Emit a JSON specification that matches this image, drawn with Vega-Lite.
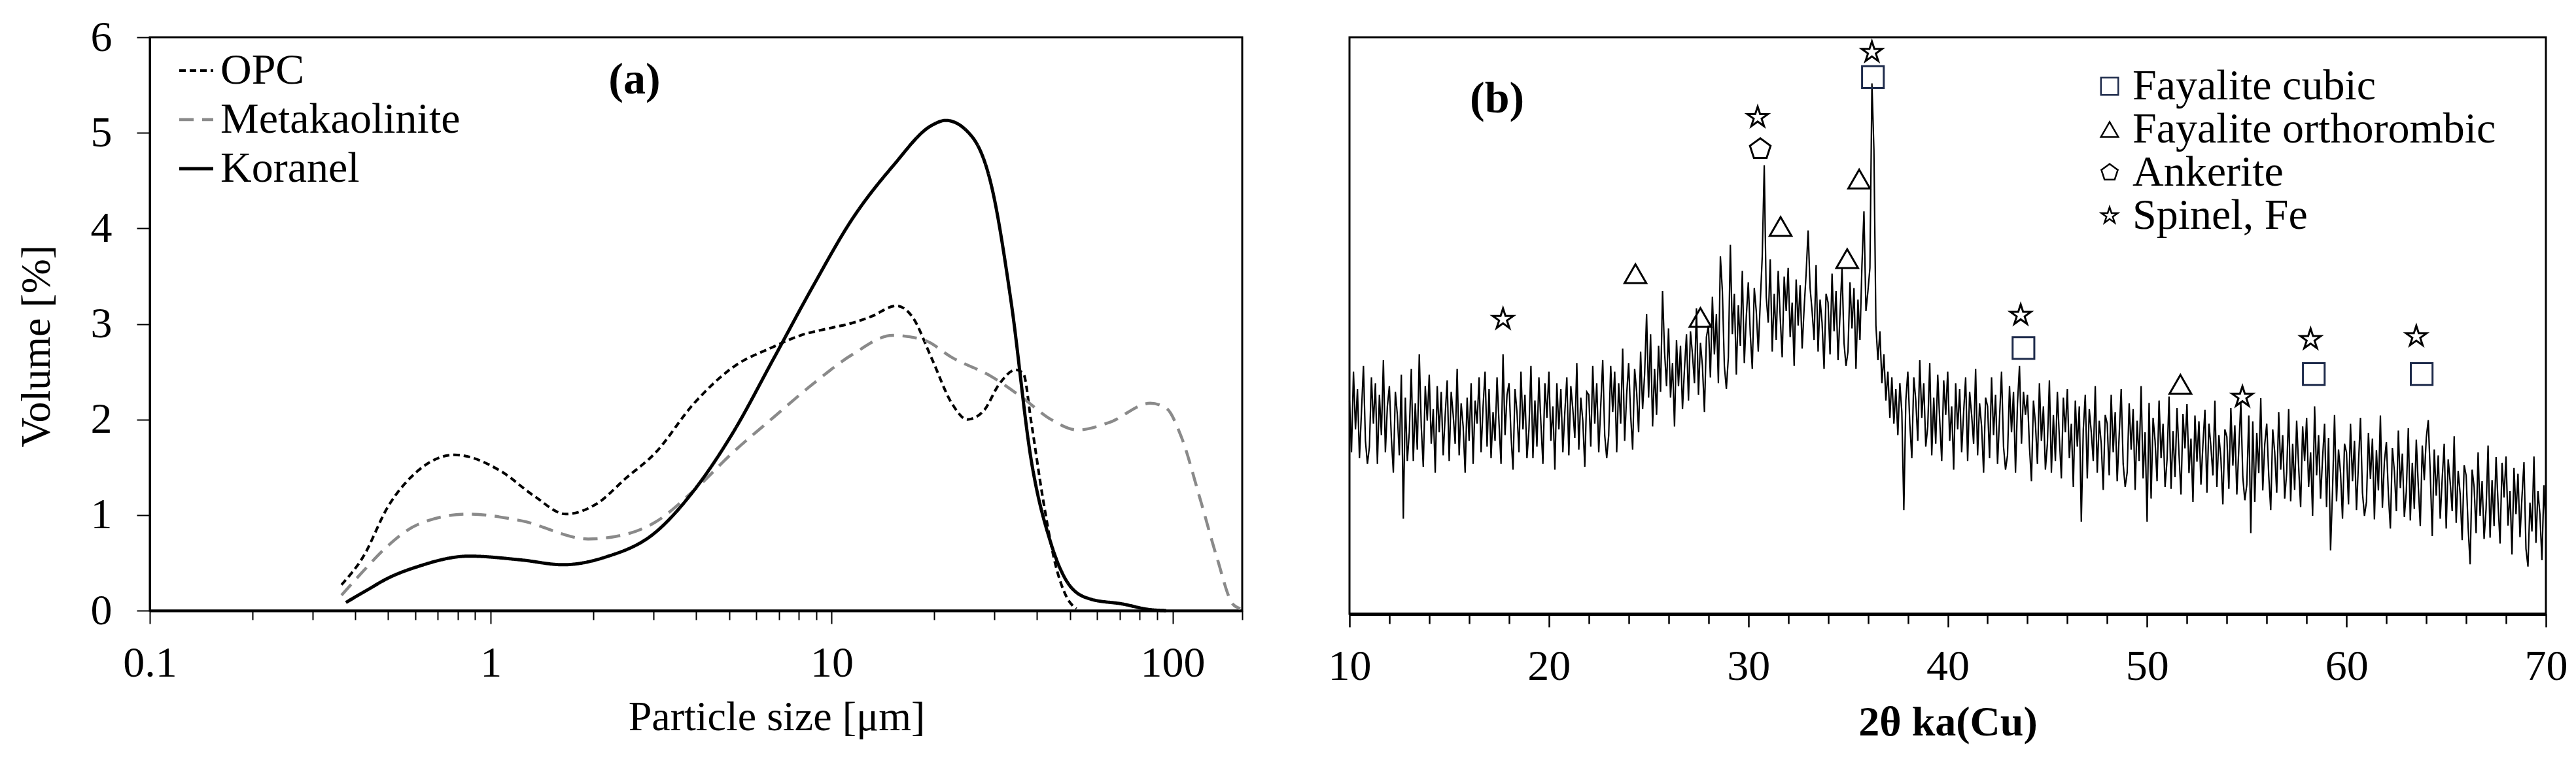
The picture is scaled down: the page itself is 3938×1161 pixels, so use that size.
{
"$schema":"https://vega.github.io/schema/vega-lite/v6.json",
"background":"white",
"padding":{"left":22,"top":22,"right":5,"bottom":5},
"spacing":121,
"resolve":{"scale":{"color":"independent","shape":"independent","strokeDash":"independent","strokeWidth":"independent"},"legend":{"color":"independent","shape":"independent","strokeDash":"independent","strokeWidth":"independent"}},
"config":{
 "font":"Liberation Serif",
 "view":{"stroke":"black","strokeWidth":3},
 "axis":{"grid":false,"domainColor":"black","tickColor":"black","labelColor":"black","titleColor":"black","labelFont":"Liberation Serif","titleFont":"Liberation Serif","labelFontSize":66,"titleFontSize":64,"titleFontWeight":"normal","labelFlush":false,"labelOverlap":false},
 "legend":{"labelFont":"Liberation Serif","labelColor":"black"},
 "text":{"font":"Liberation Serif","color":"black"}
},
"datasets":{
"psd":[
{"series":"OPC","size":0.365,"vol":0.27},{"series":"OPC","size":0.422,"vol":0.56},{"series":"OPC","size":0.5,"vol":1.09},{"series":"OPC","size":0.61,"vol":1.46},{"series":"OPC","size":0.784,"vol":1.63},{"series":"OPC","size":1.07,"vol":1.46},{"series":"OPC","size":1.34,"vol":1.2},{"series":"OPC","size":1.66,"vol":1.01},{"series":"OPC","size":2.05,"vol":1.12},{"series":"OPC","size":2.5,"vol":1.39},{"series":"OPC","size":3.02,"vol":1.64},{"series":"OPC","size":3.95,"vol":2.17},{"series":"OPC","size":5.15,"vol":2.55},{"series":"OPC","size":6.74,"vol":2.76},{"series":"OPC","size":8.1,"vol":2.88},{"series":"OPC","size":10,"vol":2.96},{"series":"OPC","size":11.5,"vol":3.01},{"series":"OPC","size":13.1,"vol":3.08},{"series":"OPC","size":15.5,"vol":3.19},{"series":"OPC","size":17.2,"vol":3.08},{"series":"OPC","size":19.7,"vol":2.63},{"series":"OPC","size":22.5,"vol":2.17},{"series":"OPC","size":25.0,"vol":2.0},{"series":"OPC","size":27.9,"vol":2.09},{"series":"OPC","size":31.0,"vol":2.37},{"series":"OPC","size":34.7,"vol":2.52},{"series":"OPC","size":36.5,"vol":2.48},{"series":"OPC","size":38.5,"vol":1.97},{"series":"OPC","size":41.7,"vol":1.16},{"series":"OPC","size":45.2,"vol":0.5},{"series":"OPC","size":48.9,"vol":0.14},{"series":"OPC","size":52.2,"vol":0.02},
{"series":"Metakaolinite","size":0.365,"vol":0.16},{"series":"Metakaolinite","size":0.422,"vol":0.41},{"series":"Metakaolinite","size":0.5,"vol":0.68},{"series":"Metakaolinite","size":0.61,"vol":0.9},{"series":"Metakaolinite","size":0.853,"vol":1.01},{"series":"Metakaolinite","size":1.23,"vol":0.94},{"series":"Metakaolinite","size":1.93,"vol":0.75},{"series":"Metakaolinite","size":2.5,"vol":0.8},{"series":"Metakaolinite","size":3.02,"vol":0.92},{"series":"Metakaolinite","size":3.95,"vol":1.26},{"series":"Metakaolinite","size":5.15,"vol":1.66},{"series":"Metakaolinite","size":6.74,"vol":2.02},{"series":"Metakaolinite","size":8.8,"vol":2.37},{"series":"Metakaolinite","size":11.5,"vol":2.68},{"series":"Metakaolinite","size":15.1,"vol":2.88},{"series":"Metakaolinite","size":18.7,"vol":2.83},{"series":"Metakaolinite","size":22.5,"vol":2.65},{"series":"Metakaolinite","size":29.4,"vol":2.45},{"series":"Metakaolinite","size":36.5,"vol":2.22},{"series":"Metakaolinite","size":44,"vol":2.0},{"series":"Metakaolinite","size":52.7,"vol":1.89},{"series":"Metakaolinite","size":65.3,"vol":1.97},{"series":"Metakaolinite","size":86,"vol":2.17},{"series":"Metakaolinite","size":95.7,"vol":2.12},{"series":"Metakaolinite","size":106,"vol":1.82},{"series":"Metakaolinite","size":120.6,"vol":1.16},{"series":"Metakaolinite","size":135,"vol":0.55},{"series":"Metakaolinite","size":150,"vol":0.07},{"series":"Metakaolinite","size":158,"vol":0.02},
{"series":"Koranel","size":0.376,"vol":0.085},{"series":"Koranel","size":0.434,"vol":0.215},{"series":"Koranel","size":0.5,"vol":0.34},{"series":"Koranel","size":0.61,"vol":0.46},{"series":"Koranel","size":0.864,"vol":0.57},{"series":"Koranel","size":1.23,"vol":0.53},{"series":"Koranel","size":1.63,"vol":0.48},{"series":"Koranel","size":2.17,"vol":0.56},{"series":"Koranel","size":3.02,"vol":0.81},{"series":"Koranel","size":3.95,"vol":1.26},{"series":"Koranel","size":5.15,"vol":1.87},{"series":"Koranel","size":6.74,"vol":2.63},{"series":"Koranel","size":8.8,"vol":3.39},{"series":"Koranel","size":11.5,"vol":4.1},{"series":"Koranel","size":15.1,"vol":4.65},{"series":"Koranel","size":19.7,"vol":5.08},{"series":"Koranel","size":21.6,"vol":5.13},{"series":"Koranel","size":25.8,"vol":4.96},{"series":"Koranel","size":29.4,"vol":4.45},{"series":"Koranel","size":33.6,"vol":3.23},{"series":"Koranel","size":38.5,"vol":1.57},{"series":"Koranel","size":44,"vol":0.7},{"series":"Koranel","size":50.2,"vol":0.25},{"series":"Koranel","size":57.5,"vol":0.12},{"series":"Koranel","size":71.1,"vol":0.07},{"series":"Koranel","size":86,"vol":0.01},{"series":"Koranel","size":95.7,"vol":0.0}
],
"peaks":[
{"phase":"Spinel, Fe","t":17.7,"i":51.1},{"phase":"Spinel, Fe","t":30.47,"i":86.1},{"phase":"Spinel, Fe","t":36.2,"i":97.4},{"phase":"Spinel, Fe","t":43.66,"i":51.8},{"phase":"Spinel, Fe","t":54.78,"i":37.6},{"phase":"Spinel, Fe","t":58.2,"i":47.6},{"phase":"Spinel, Fe","t":63.5,"i":48.1},
{"phase":"Fayalite orthorombic","t":24.34,"i":59.0},{"phase":"Fayalite orthorombic","t":27.6,"i":51.4},{"phase":"Fayalite orthorombic","t":31.62,"i":67.2},{"phase":"Fayalite orthorombic","t":34.96,"i":61.6},{"phase":"Fayalite orthorombic","t":35.56,"i":75.4},{"phase":"Fayalite orthorombic","t":51.67,"i":39.8},
{"phase":"Ankerite","t":30.6,"i":80.6},
{"phase":"Fayalite cubic","t":36.25,"i":93.1},{"phase":"Fayalite cubic","t":43.8,"i":46.1},{"phase":"Fayalite cubic","t":58.36,"i":41.6},{"phase":"Fayalite cubic","t":63.77,"i":41.6}
],
"xrd":[
{"t":10.0,"i":37},{"t":10.1,"i":28},{"t":10.2,"i":42},{"t":10.3,"i":32},{"t":10.4,"i":39},{"t":10.5,"i":27},{"t":10.6,"i":35},{"t":10.7,"i":43},{"t":10.8,"i":30},{"t":10.9,"i":26},
{"t":11.0,"i":29},{"t":11.1,"i":41},{"t":11.2,"i":33},{"t":11.3,"i":40},{"t":11.4,"i":26},{"t":11.5,"i":38},{"t":11.6,"i":31},{"t":11.7,"i":44},{"t":11.8,"i":28},{"t":11.9,"i":36},
{"t":12.0,"i":39.5},{"t":12.1,"i":30.5},{"t":12.2,"i":24.5},{"t":12.3,"i":38.5},{"t":12.4,"i":34.5},{"t":12.5,"i":27.5},{"t":12.6,"i":41.5},{"t":12.7,"i":16.5},{"t":12.8,"i":37.5},{"t":12.9,"i":26.5},
{"t":13.0,"i":31.5},{"t":13.1,"i":42.5},{"t":13.2,"i":26.5},{"t":13.3,"i":36.5},{"t":13.4,"i":28.5},{"t":13.5,"i":45},{"t":13.6,"i":32.5},{"t":13.7,"i":25.5},{"t":13.8,"i":39.5},{"t":13.9,"i":33.5},
{"t":14.0,"i":41.5},{"t":14.1,"i":29.5},{"t":14.2,"i":35.5},{"t":14.3,"i":24.5},{"t":14.4,"i":39.5},{"t":14.5,"i":31.5},{"t":14.6,"i":38.5},{"t":14.7,"i":27.5},{"t":14.8,"i":34.5},{"t":14.9,"i":40.5},
{"t":15.0,"i":26.5},{"t":15.1,"i":38.5},{"t":15.2,"i":34.5},{"t":15.3,"i":29.5},{"t":15.4,"i":42.5},{"t":15.5,"i":27.5},{"t":15.6,"i":36.5},{"t":15.7,"i":32.5},{"t":15.8,"i":24.5},{"t":15.9,"i":37.5},
{"t":16.0,"i":30},{"t":16.1,"i":40},{"t":16.2,"i":26},{"t":16.3,"i":37},{"t":16.4,"i":33},{"t":16.5,"i":41},{"t":16.6,"i":28},{"t":16.7,"i":36},{"t":16.8,"i":42},{"t":16.9,"i":29},
{"t":17.0,"i":39},{"t":17.1,"i":27},{"t":17.2,"i":35},{"t":17.3,"i":30},{"t":17.4,"i":41},{"t":17.5,"i":33},{"t":17.6,"i":26},{"t":17.7,"i":45},{"t":17.8,"i":31},{"t":17.9,"i":38},
{"t":18.0,"i":40},{"t":18.1,"i":31},{"t":18.2,"i":25},{"t":18.3,"i":39},{"t":18.4,"i":35},{"t":18.5,"i":28},{"t":18.6,"i":42},{"t":18.7,"i":32},{"t":18.8,"i":38},{"t":18.9,"i":27},
{"t":19.0,"i":32},{"t":19.1,"i":43},{"t":19.2,"i":27},{"t":19.3,"i":37},{"t":19.4,"i":29},{"t":19.5,"i":41},{"t":19.6,"i":33},{"t":19.7,"i":26},{"t":19.8,"i":40},{"t":19.9,"i":34},
{"t":20.0,"i":42},{"t":20.1,"i":30},{"t":20.2,"i":36},{"t":20.3,"i":25},{"t":20.4,"i":40},{"t":20.5,"i":32},{"t":20.6,"i":39},{"t":20.7,"i":28},{"t":20.8,"i":35},{"t":20.9,"i":41},
{"t":21.0,"i":27.5},{"t":21.1,"i":39.5},{"t":21.2,"i":35.5},{"t":21.3,"i":30.5},{"t":21.4,"i":43.5},{"t":21.5,"i":28.5},{"t":21.6,"i":37.5},{"t":21.7,"i":33.5},{"t":21.8,"i":25.5},{"t":21.9,"i":38.5},
{"t":22.0,"i":38},{"t":22.1,"i":29},{"t":22.2,"i":43},{"t":22.3,"i":33},{"t":22.4,"i":40},{"t":22.5,"i":28},{"t":22.6,"i":36},{"t":22.7,"i":44},{"t":22.8,"i":31},{"t":22.9,"i":27},
{"t":23.0,"i":31},{"t":23.1,"i":43},{"t":23.2,"i":35},{"t":23.3,"i":42},{"t":23.4,"i":28},{"t":23.5,"i":40},{"t":23.6,"i":33},{"t":23.7,"i":46},{"t":23.8,"i":30},{"t":23.9,"i":38},
{"t":24.0,"i":43.5},{"t":24.1,"i":34.5},{"t":24.2,"i":28.5},{"t":24.3,"i":42.5},{"t":24.4,"i":38.5},{"t":24.5,"i":31.5},{"t":24.6,"i":45.5},{"t":24.7,"i":35.5},{"t":24.8,"i":41.5},{"t":24.9,"i":52},
{"t":25.0,"i":37.5},{"t":25.1,"i":48.5},{"t":25.2,"i":32.5},{"t":25.3,"i":42.5},{"t":25.4,"i":34.5},{"t":25.5,"i":46.5},{"t":25.6,"i":38.5},{"t":25.7,"i":56},{"t":25.8,"i":45.5},{"t":25.9,"i":39.5},
{"t":26.0,"i":49.5},{"t":26.1,"i":37.5},{"t":26.2,"i":43.5},{"t":26.3,"i":32.5},{"t":26.4,"i":47.5},{"t":26.5,"i":39.5},{"t":26.6,"i":46.5},{"t":26.7,"i":35.5},{"t":26.8,"i":42.5},{"t":26.9,"i":48.5},
{"t":27.0,"i":37},{"t":27.1,"i":49},{"t":27.2,"i":45},{"t":27.3,"i":40},{"t":27.4,"i":53},{"t":27.5,"i":38},{"t":27.6,"i":47},{"t":27.7,"i":43},{"t":27.8,"i":35},{"t":27.9,"i":48},
{"t":28.0,"i":50},{"t":28.1,"i":41},{"t":28.2,"i":55},{"t":28.3,"i":45},{"t":28.4,"i":52},{"t":28.5,"i":40},{"t":28.6,"i":62},{"t":28.7,"i":56},{"t":28.8,"i":43},{"t":28.9,"i":39},
{"t":29.0,"i":44.5},{"t":29.1,"i":64},{"t":29.2,"i":48.5},{"t":29.3,"i":55.5},{"t":29.4,"i":41.5},{"t":29.5,"i":53.5},{"t":29.6,"i":46.5},{"t":29.7,"i":59.5},{"t":29.8,"i":43.5},{"t":29.9,"i":51.5},
{"t":30.0,"i":57.5},{"t":30.1,"i":48.5},{"t":30.2,"i":42.5},{"t":30.3,"i":56.5},{"t":30.4,"i":52.5},{"t":30.5,"i":45.5},{"t":30.6,"i":54},{"t":30.7,"i":62},{"t":30.8,"i":77.8},{"t":30.9,"i":55},
{"t":31.0,"i":50.5},{"t":31.1,"i":61.5},{"t":31.2,"i":45.5},{"t":31.3,"i":55.5},{"t":31.4,"i":47.5},{"t":31.5,"i":59.5},{"t":31.6,"i":51.5},{"t":31.7,"i":44.5},{"t":31.8,"i":58.5},{"t":31.9,"i":52.5},
{"t":32.0,"i":60},{"t":32.1,"i":48},{"t":32.2,"i":54},{"t":32.3,"i":43},{"t":32.4,"i":58},{"t":32.5,"i":50},{"t":32.6,"i":57},{"t":32.7,"i":46},{"t":32.8,"i":53},{"t":32.9,"i":59},
{"t":33.0,"i":66.5},{"t":33.1,"i":56.5},{"t":33.2,"i":52.5},{"t":33.3,"i":47.5},{"t":33.4,"i":60.5},{"t":33.5,"i":45.5},{"t":33.6,"i":54.5},{"t":33.7,"i":50.5},{"t":33.8,"i":42.5},{"t":33.9,"i":55.5},
{"t":34.0,"i":54},{"t":34.1,"i":45},{"t":34.2,"i":59},{"t":34.3,"i":49},{"t":34.4,"i":56},{"t":34.5,"i":44},{"t":34.6,"i":52},{"t":34.7,"i":60},{"t":34.8,"i":47},{"t":34.9,"i":43},
{"t":35.0,"i":45.5},{"t":35.1,"i":57.5},{"t":35.2,"i":49.5},{"t":35.3,"i":56.5},{"t":35.4,"i":42.5},{"t":35.5,"i":54.5},{"t":35.6,"i":47.5},{"t":35.7,"i":60.5},{"t":35.8,"i":69.8},{"t":35.9,"i":52.5},
{"t":36.0,"i":56},{"t":36.1,"i":60},{"t":36.2,"i":92},{"t":36.3,"i":80.5},{"t":36.4,"i":50},{"t":36.5,"i":44},{"t":36.6,"i":49},{"t":36.7,"i":40},{"t":36.8,"i":45},{"t":36.9,"i":37},
{"t":37.0,"i":42},{"t":37.1,"i":34},{"t":37.2,"i":41},{"t":37.3,"i":33},{"t":37.4,"i":39},{"t":37.5,"i":31},{"t":37.6,"i":40},{"t":37.7,"i":35},{"t":37.8,"i":18},{"t":37.9,"i":37},
{"t":38.0,"i":42},{"t":38.1,"i":33},{"t":38.2,"i":27},{"t":38.3,"i":41},{"t":38.4,"i":37},{"t":38.5,"i":30},{"t":38.6,"i":44},{"t":38.7,"i":34},{"t":38.8,"i":40},{"t":38.9,"i":29},
{"t":39.0,"i":32.5},{"t":39.1,"i":43.5},{"t":39.2,"i":27.5},{"t":39.3,"i":37.5},{"t":39.4,"i":29.5},{"t":39.5,"i":41.5},{"t":39.6,"i":33.5},{"t":39.7,"i":26.5},{"t":39.8,"i":40.5},{"t":39.9,"i":34.5},
{"t":40.0,"i":42},{"t":40.1,"i":30},{"t":40.2,"i":36},{"t":40.3,"i":25},{"t":40.4,"i":40},{"t":40.5,"i":32},{"t":40.6,"i":39},{"t":40.7,"i":28},{"t":40.8,"i":35},{"t":40.9,"i":41},
{"t":41.0,"i":26.5},{"t":41.1,"i":38.5},{"t":41.2,"i":34.5},{"t":41.3,"i":29.5},{"t":41.4,"i":42.5},{"t":41.5,"i":27.5},{"t":41.6,"i":36.5},{"t":41.7,"i":32.5},{"t":41.8,"i":24.5},{"t":41.9,"i":37.5},
{"t":42.0,"i":36},{"t":42.1,"i":27},{"t":42.2,"i":41},{"t":42.3,"i":31},{"t":42.4,"i":38},{"t":42.5,"i":26},{"t":42.6,"i":34},{"t":42.7,"i":42},{"t":42.8,"i":29},{"t":42.9,"i":25},
{"t":43.0,"i":27.5},{"t":43.1,"i":39.5},{"t":43.2,"i":31.5},{"t":43.3,"i":38.5},{"t":43.4,"i":24.5},{"t":43.5,"i":36.5},{"t":43.6,"i":43},{"t":43.7,"i":29.5},{"t":43.8,"i":38.5},{"t":43.9,"i":34.5},
{"t":44.0,"i":38},{"t":44.1,"i":29},{"t":44.2,"i":23},{"t":44.3,"i":37},{"t":44.4,"i":33},{"t":44.5,"i":26},{"t":44.6,"i":40},{"t":44.7,"i":30},{"t":44.8,"i":36},{"t":44.9,"i":25},
{"t":45.0,"i":29.5},{"t":45.1,"i":40.5},{"t":45.2,"i":24.5},{"t":45.3,"i":34.5},{"t":45.4,"i":26.5},{"t":45.5,"i":38.5},{"t":45.6,"i":30.5},{"t":45.7,"i":23.5},{"t":45.8,"i":37.5},{"t":45.9,"i":31.5},
{"t":46.0,"i":39},{"t":46.1,"i":27},{"t":46.2,"i":33},{"t":46.3,"i":22},{"t":46.4,"i":37},{"t":46.5,"i":29},{"t":46.6,"i":36},{"t":46.7,"i":16},{"t":46.8,"i":32},{"t":46.9,"i":38},
{"t":47.0,"i":23.5},{"t":47.1,"i":35.5},{"t":47.2,"i":31.5},{"t":47.3,"i":26.5},{"t":47.4,"i":39.5},{"t":47.5,"i":24.5},{"t":47.6,"i":33.5},{"t":47.7,"i":29.5},{"t":47.8,"i":21.5},{"t":47.9,"i":34.5},
{"t":48.0,"i":33},{"t":48.1,"i":24},{"t":48.2,"i":38},{"t":48.3,"i":28},{"t":48.4,"i":35},{"t":48.5,"i":23},{"t":48.6,"i":31},{"t":48.7,"i":39},{"t":48.8,"i":26},{"t":48.9,"i":22},
{"t":49.0,"i":24.5},{"t":49.1,"i":36.5},{"t":49.2,"i":28.5},{"t":49.3,"i":35.5},{"t":49.4,"i":21.5},{"t":49.5,"i":33.5},{"t":49.6,"i":26.5},{"t":49.7,"i":39.5},{"t":49.8,"i":23.5},{"t":49.9,"i":31.5},
{"t":50.0,"i":16},{"t":50.1,"i":36.6},{"t":50.2,"i":20},{"t":50.3,"i":34},{"t":50.4,"i":30},{"t":50.5,"i":23},{"t":50.6,"i":37},{"t":50.7,"i":27},{"t":50.8,"i":33},{"t":50.9,"i":22},
{"t":51.0,"i":26.7},{"t":51.1,"i":37.7},{"t":51.2,"i":21.7},{"t":51.3,"i":31.7},{"t":51.4,"i":23.7},{"t":51.5,"i":35.7},{"t":51.6,"i":27.7},{"t":51.7,"i":20.7},{"t":51.8,"i":34.7},{"t":51.9,"i":28.7},
{"t":52.0,"i":36.4},{"t":52.1,"i":24.4},{"t":52.2,"i":30.4},{"t":52.3,"i":19.4},{"t":52.4,"i":34.4},{"t":52.5,"i":26.4},{"t":52.6,"i":33.4},{"t":52.7,"i":22.4},{"t":52.8,"i":29.4},{"t":52.9,"i":35.4},
{"t":53.0,"i":21},{"t":53.1,"i":33},{"t":53.2,"i":29},{"t":53.3,"i":24},{"t":53.4,"i":37},{"t":53.5,"i":22},{"t":53.6,"i":31},{"t":53.7,"i":27},{"t":53.8,"i":19},{"t":53.9,"i":32},
{"t":54.0,"i":30.7},{"t":54.1,"i":21.7},{"t":54.2,"i":35.7},{"t":54.3,"i":25.7},{"t":54.4,"i":32.7},{"t":54.5,"i":20.7},{"t":54.6,"i":28.7},{"t":54.7,"i":36.7},{"t":54.8,"i":23.7},{"t":54.9,"i":19.7},
{"t":55.0,"i":22.4},{"t":55.1,"i":34.4},{"t":55.2,"i":14},{"t":55.3,"i":33.4},{"t":55.4,"i":19.4},{"t":55.5,"i":31.4},{"t":55.6,"i":24.4},{"t":55.7,"i":37.4},{"t":55.8,"i":21.4},{"t":55.9,"i":29.4},
{"t":56.0,"i":33},{"t":56.1,"i":24},{"t":56.2,"i":18},{"t":56.3,"i":32},{"t":56.4,"i":28},{"t":56.5,"i":21},{"t":56.6,"i":35},{"t":56.7,"i":25},{"t":56.8,"i":31},{"t":56.9,"i":20},
{"t":57.0,"i":24.5},{"t":57.1,"i":35.5},{"t":57.2,"i":19.5},{"t":57.3,"i":29.5},{"t":57.4,"i":21.5},{"t":57.5,"i":33.5},{"t":57.6,"i":25.5},{"t":57.7,"i":18.5},{"t":57.8,"i":32.5},{"t":57.9,"i":26.5},
{"t":58.0,"i":34},{"t":58.1,"i":22},{"t":58.2,"i":28},{"t":58.3,"i":17},{"t":58.4,"i":36},{"t":58.5,"i":24},{"t":58.6,"i":31},{"t":58.7,"i":20},{"t":58.8,"i":27},{"t":58.9,"i":33},
{"t":59.0,"i":18.5},{"t":59.1,"i":30.5},{"t":59.2,"i":11},{"t":59.3,"i":21.5},{"t":59.4,"i":34.5},{"t":59.5,"i":19.5},{"t":59.6,"i":28.5},{"t":59.7,"i":24.5},{"t":59.8,"i":16.5},{"t":59.9,"i":29.5},
{"t":60.0,"i":28},{"t":60.1,"i":19},{"t":60.2,"i":33},{"t":60.3,"i":23},{"t":60.4,"i":30},{"t":60.5,"i":18},{"t":60.6,"i":26},{"t":60.7,"i":34},{"t":60.8,"i":21},{"t":60.9,"i":17},
{"t":61.0,"i":19.4},{"t":61.1,"i":31.4},{"t":61.2,"i":23.4},{"t":61.3,"i":30.4},{"t":61.4,"i":16.4},{"t":61.5,"i":28.4},{"t":61.6,"i":21.4},{"t":61.7,"i":34.4},{"t":61.8,"i":18.4},{"t":61.9,"i":26.4},
{"t":62.0,"i":29.8},{"t":62.1,"i":20.8},{"t":62.2,"i":14.8},{"t":62.3,"i":28.8},{"t":62.4,"i":24.8},{"t":62.5,"i":17.8},{"t":62.6,"i":31.8},{"t":62.7,"i":21.8},{"t":62.8,"i":27.8},{"t":62.9,"i":16.8},
{"t":63.0,"i":21.2},{"t":63.1,"i":32.2},{"t":63.2,"i":16.2},{"t":63.3,"i":26.2},{"t":63.4,"i":18.2},{"t":63.5,"i":30.2},{"t":63.6,"i":22.2},{"t":63.7,"i":15.2},{"t":63.8,"i":29.2},{"t":63.9,"i":23.2},
{"t":64.0,"i":30.5},{"t":64.1,"i":33.6},{"t":64.2,"i":24.5},{"t":64.3,"i":13.5},{"t":64.4,"i":28.5},{"t":64.5,"i":20.5},{"t":64.6,"i":27.5},{"t":64.7,"i":16.5},{"t":64.8,"i":23.5},{"t":64.9,"i":29.5},
{"t":65.0,"i":14.8},{"t":65.1,"i":26.8},{"t":65.2,"i":22.8},{"t":65.3,"i":17.8},{"t":65.4,"i":30.8},{"t":65.5,"i":15.8},{"t":65.6,"i":24.8},{"t":65.7,"i":20.8},{"t":65.8,"i":12.8},{"t":65.9,"i":25.8},
{"t":66.0,"i":24},{"t":66.1,"i":15},{"t":66.2,"i":8.6},{"t":66.3,"i":25},{"t":66.4,"i":22},{"t":66.5,"i":14},{"t":66.6,"i":28},{"t":66.7,"i":17},{"t":66.8,"i":23},{"t":66.9,"i":13},
{"t":67.0,"i":18.2},{"t":67.1,"i":29.2},{"t":67.2,"i":13.2},{"t":67.3,"i":23.2},{"t":67.4,"i":15.2},{"t":67.5,"i":27.2},{"t":67.6,"i":19.2},{"t":67.7,"i":12.2},{"t":67.8,"i":26.2},{"t":67.9,"i":20.2},
{"t":68.0,"i":27.3},{"t":68.1,"i":15.3},{"t":68.2,"i":21.3},{"t":68.3,"i":10.3},{"t":68.4,"i":25.3},{"t":68.5,"i":17.3},{"t":68.6,"i":24.3},{"t":68.7,"i":13.3},{"t":68.8,"i":20.3},{"t":68.9,"i":26.3},
{"t":69.0,"i":11.3},{"t":69.1,"i":8.2},{"t":69.2,"i":19.3},{"t":69.3,"i":14.3},{"t":69.4,"i":27.3},{"t":69.5,"i":12.3},{"t":69.6,"i":21.3},{"t":69.7,"i":17.3},{"t":69.8,"i":9.3},{"t":69.9,"i":22.3},
{"t":70.0,"i":15}
]
},
"hconcat":[
{
 "width":1670,"height":877,
 "layer":[
  {
   "data":{"name":"psd"},
   "mark":{"type":"line","interpolate":"monotone"},
   "encoding":{
    "x":{"field":"size","type":"quantitative","scale":{"type":"log","domain":[0.1,160],"nice":false},
      "axis":{"orient":"bottom","values":[0.1,1,10,100],"format":"~g","tickSize":20,"tickWidth":2,"domainWidth":4,"labelPadding":28,"title":"Particle size [μm]","titleX":958,"titleY":182,"titleBaseline":"alphabetic","titleAlign":"center"}},
    "y":{"field":"vol","type":"quantitative","scale":{"domain":[0,6],"nice":false},
      "axis":{"values":[0,1,2,3,4,5,6],"format":"d","tickSize":20,"tickWidth":2,"domainWidth":3,"labelPadding":38,"title":"Volume [%]","titleX":-154,"titleY":472,"titleBaseline":"alphabetic","titleAlign":"center","titleAngle":270}},
    "color":{"field":"series","type":"nominal","scale":{"domain":["OPC","Metakaolinite","Koranel"],"range":["#000000","#8a8a8a","#000000"]},
      "legend":{"orient":"none","legendX":38,"legendY":18,"title":null,"labelFont":"Liberation Serif","labelFontSize":66,"symbolType":"stroke","symbolSize":2704,"labelOffset":4,"rowPadding":9,"padding":0,"labelLimit":0}},
    "strokeDash":{"field":"series","type":"nominal","scale":{"domain":["OPC","Metakaolinite","Koranel"],"range":[[10,6],[22,13],[1,0]]},
      "legend":{"orient":"none","legendX":38,"legendY":18,"title":null,"labelFont":"Liberation Serif","labelFontSize":66,"symbolType":"stroke","symbolSize":2704,"labelOffset":4,"rowPadding":9,"padding":0,"labelLimit":0}},
    "strokeWidth":{"field":"series","type":"nominal","scale":{"domain":["OPC","Metakaolinite","Koranel"],"range":[4,5,2.5]},
      "legend":{"orient":"none","legendX":38,"legendY":18,"title":null,"labelFont":"Liberation Serif","labelFontSize":66,"symbolType":"stroke","symbolSize":2704,"labelOffset":4,"rowPadding":9,"padding":0,"labelLimit":0}}
   }
  },
  {
   "data":{"name":"psd"},
   "mark":{"type":"point","opacity":0},
   "encoding":{
    "x":{"field":"size","type":"quantitative","axis":{"orient":"bottom","values":[0.2,0.3,0.4,0.5,0.6,0.7,0.8,0.9,2,3,4,5,6,7,8,9,20,30,40,50,60,70,80,90,160],"tickSize":14,"tickWidth":2,"labels":false,"domain":false,"title":null}}
   }
  },
  {
   "data":{"values":[{"label":"(a)"}]},
   "mark":{"type":"text","fontWeight":"bold","fontSize":68,"align":"center","baseline":"middle"},
   "encoding":{"x":{"datum":2.64,"type":"quantitative","axis":null},"y":{"datum":5.55,"type":"quantitative"},"text":{"field":"label"}}
  }
 ],
 "resolve":{"axis":{"x":"independent"}}
},
{
 "width":1829,"height":882,
 "layer":[
  {
   "data":{"name":"xrd"},
   "mark":{"type":"line","color":"black","strokeWidth":2.2},
   "encoding":{
    "x":{"field":"t","type":"quantitative","scale":{"domain":[10,70],"nice":false},
      "axis":{"orient":"bottom","values":[10,20,30,40,50,60,70],"tickSize":20,"tickWidth":2.5,"domainWidth":5,"labelPadding":28,"title":"2θ ka(Cu)","titleFontWeight":"bold","titleX":914.5,"titleY":185,"titleBaseline":"alphabetic","titleAlign":"center"}},
    "y":{"field":"i","type":"quantitative","scale":{"domain":[0,100],"nice":false},"axis":null}
   }
  },
  {
   "data":{"name":"peaks"},
   "mark":{"type":"point","opacity":0},
   "encoding":{
    "x":{"field":"t","type":"quantitative","axis":{"orient":"bottom","values":[12,14,16,18,22,24,26,28,32,34,36,38,42,44,46,48,52,54,56,58,62,64,66,68],"tickSize":15,"tickWidth":2.5,"labels":false,"domain":false,"title":null}}
   }
  },
  {
   "data":{"name":"peaks"},
   "mark":{"type":"point","filled":false,"strokeWidth":3,"size":1100,"opacity":1},
   "encoding":{
    "x":{"field":"t","type":"quantitative","axis":null},
    "y":{"field":"i","type":"quantitative","axis":null},
    "shape":{"field":"phase","type":"nominal","scale":{"domain":["Fayalite cubic","Fayalite orthorombic","Ankerite","Spinel, Fe"],"range":["square","triangle-up","M0,-1L0.951,-0.309L0.588,0.809L-0.588,0.809L-0.951,-0.309Z","M0,-1L0.225,-0.309L0.951,-0.309L0.363,0.118L0.588,0.809L0,0.382L-0.588,0.809L-0.363,0.118L-0.951,-0.309L-0.225,-0.309Z"]},
      "legend":{"orient":"none","legendX":1129,"legendY":42,"title":null,"labelFont":"Liberation Serif","labelFontSize":66,"symbolSize":700,"symbolStrokeWidth":2.5,"labelOffset":2,"rowPadding":-3,"padding":0,"labelLimit":0}},
    "color":{"field":"phase","type":"nominal","scale":{"domain":["Fayalite cubic","Fayalite orthorombic","Ankerite","Spinel, Fe"],"range":["#1e2b4b","#000000","#000000","#000000"]},
      "legend":{"orient":"none","legendX":1129,"legendY":42,"title":null,"labelFont":"Liberation Serif","labelFontSize":66,"symbolSize":700,"symbolStrokeWidth":2.5,"labelOffset":2,"rowPadding":-3,"padding":0,"labelLimit":0}}
   }
  },
  {
   "data":{"values":[{"label":"(b)"}]},
   "mark":{"type":"text","fontWeight":"bold","fontSize":68,"align":"center","baseline":"middle"},
   "encoding":{"x":{"datum":17.4,"type":"quantitative","axis":null},"y":{"datum":89.2,"type":"quantitative","axis":null},"text":{"field":"label"}}
  }
 ],
 "resolve":{"axis":{"x":"independent"}}
}
]
}
